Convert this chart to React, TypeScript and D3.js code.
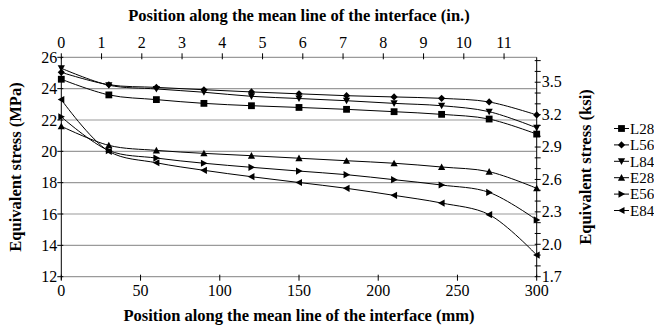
import React from "react";
import * as d3 from "d3";

const positionsMm = [0, 30, 60, 90, 120, 150, 180, 210, 240, 270, 300];
const seriesNames = ["L28", "L56", "L84", "E28", "E56", "E84"];
const L28 = [24.6, 23.6, 23.3, 23.06, 22.91, 22.8, 22.68, 22.53, 22.36, 22.06, 21.1];
const L56 = [25.04, 24.25, 24.08, 23.93, 23.79, 23.67, 23.55, 23.47, 23.38, 23.15, 22.32];
const L84 = [25.3, 24.22, 23.98, 23.77, 23.51, 23.37, 23.23, 23.06, 22.91, 22.53, 21.5];
const E28 = [21.6, 20.38, 20.06, 19.87, 19.72, 19.56, 19.4, 19.24, 19.0, 18.7, 17.64];
const E56 = [22.2, 20.05, 19.57, 19.24, 18.98, 18.74, 18.51, 18.19, 17.85, 17.38, 15.62];
const E84 = [23.3, 20.0, 19.27, 18.79, 18.38, 18.01, 17.64, 17.19, 16.7, 15.96, 13.38];
const seriesValues = [L28, L56, L84, E28, E56, E84];
const markerKinds = ["square", "diamond", "down", "up", "right", "left"];

const mmTicks = [0, 50, 100, 150, 200, 250, 300];
const inTicks = [0, 1, 2, 3, 4, 5, 6, 7, 8, 9, 10, 11];
const mpaTicks = [12, 14, 16, 18, 20, 22, 24, 26];
const ksiLabels = [1.7, 2.0, 2.3, 2.6, 2.9, 3.2, 3.5];
const ksiMinor = [1.7, 1.8, 1.9, 2.0, 2.1, 2.2, 2.3, 2.4, 2.5, 2.6, 2.7, 2.8, 2.9, 3.0, 3.1, 3.2, 3.3, 3.4, 3.5, 3.6, 3.7];

const W = 654, H = 328;
const left = 61.3, right = 536.7, top = 57.3, bottom = 276.7;
const TS: React.CSSProperties = { fontFamily: '"Liberation Serif"' };

function Marker({ kind, x, y }: { kind: string; x: number; y: number }) {
  const s = 3.6;
  switch (kind) {
    case "square":
      return <rect x={x - 3.4} y={y - 3.4} width={6.8} height={6.8} fill="#000" />;
    case "diamond":
      return <path d={`M${x},${y - s}L${x + s},${y}L${x},${y + s}L${x - s},${y}Z`} fill="#000" />;
    case "down":
      return <path d={`M${x - s},${y - 3}L${x + s},${y - 3}L${x},${y + 3.6}Z`} fill="#000" />;
    case "up":
      return <path d={`M${x - s},${y + 3}L${x + s},${y + 3}L${x},${y - 3.6}Z`} fill="#000" />;
    case "right":
      return <path d={`M${x - 3},${y - s}L${x - 3},${y + s}L${x + 3.6},${y}Z`} fill="#000" />;
    case "left":
      return <path d={`M${x + 3},${y - s}L${x + 3},${y + s}L${x - 3.6},${y}Z`} fill="#000" />;
  }
  return null;
}

export default function App() {
  const x = d3.scaleLinear().domain([0, 300]).range([left, right]);
  const xIn = d3.scaleLinear().domain([0, 300 / 25.4]).range([left, right]);
  const y = d3.scaleLinear().domain([12, 26]).range([bottom, top]);
  const yK = d3.scaleLinear().domain([1.7, 1.7 + (bottom - top) / (15.67 * 6.895)]).range([bottom, top]);

  const line = d3
    .line<number>()
    .x((_, i) => x(positionsMm[i]))
    .y((v) => y(v))
    .curve(d3.curveCatmullRom.alpha(0.5));

  const legendY0 = 128.5;
  const legendStep = 16.4;

  return (
    <svg width={W} height={H} style={{ position: "absolute", left: 0, top: 0, background: "#fff" }}>
      <rect width={W} height={H} fill="#fff" />
      {mpaTicks.map((t) => (
        <line key={"g" + t} x1={left} x2={right} y1={y(t)} y2={y(t)} stroke="#9a9a9a" strokeWidth={1.2} />
      ))}
      <line x1={left} x2={left} y1={top} y2={bottom + 3} stroke="#000" strokeWidth={1} />
      {mpaTicks.map((t) => (
        <g key={"l" + t}>
          <line x1={left - 4} x2={left + 2} y1={y(t)} y2={y(t)} stroke="#000" />
          <text x={left - 4} y={y(t)} dy="0.35em" textAnchor="end" fontSize={16} style={TS}>
            {t}
          </text>
        </g>
      ))}
      <line x1={right} x2={right} y1={top} y2={bottom} stroke="#000" strokeWidth={1} />
      {ksiMinor.map((t) => (
        <line key={"rm" + t} x1={right - 2} x2={right + 4} y1={yK(t)} y2={yK(t)} stroke="#000" />
      ))}
      {ksiLabels.map((t) => (
        <text key={"rl" + t} x={right + 5} y={yK(t)} dy="0.33em" fontSize={16} style={TS}>
          {t.toFixed(1)}
        </text>
      ))}
      {mmTicks.map((t) => (
        <g key={"b" + t}>
          <line x1={x(t)} x2={x(t)} y1={bottom - 2} y2={bottom + 4} stroke="#000" />
          <text x={x(t)} y={bottom + 19} textAnchor="middle" fontSize={16} style={TS}>
            {t}
          </text>
        </g>
      ))}
      {inTicks.map((t) => (
        <g key={"t" + t}>
          <line x1={xIn(t)} x2={xIn(t)} y1={top - 4} y2={top + 2} stroke="#000" />
          <text x={xIn(t)} y={top - 9} textAnchor="middle" fontSize={16} style={TS}>
            {t}
          </text>
        </g>
      ))}
      <text x={(left + right) / 2} y={321} textAnchor="middle" fontSize={16.5} fontWeight="bold" style={TS}>
        Position along the mean line of the interface (mm)
      </text>
      <text x={(left + right) / 2} y={21} textAnchor="middle" fontSize={16.5} fontWeight="bold" style={TS}>
        Position along the mean line of the interface (in.)
      </text>
      <text
        transform={`translate(21,${(top + bottom) / 2}) rotate(-90)`}
        textAnchor="middle"
        fontSize={16.5}
        fontWeight="bold"
        style={TS}
      >
        Equivalent stress (MPa)
      </text>
      <text
        transform={`translate(591,${(top + bottom) / 2}) rotate(-90)`}
        textAnchor="middle"
        fontSize={16.5}
        fontWeight="bold"
        style={TS}
      >
        Equivalent stress (ksi)
      </text>
      {seriesValues.map((vals, si) => (
        <g key={seriesNames[si]}>
          <path d={line(vals) || ""} fill="none" stroke="#000" strokeWidth={1} />
          {vals.map((v, i) => (
            <Marker key={i} kind={markerKinds[si]} x={x(positionsMm[i])} y={y(v)} />
          ))}
        </g>
      ))}
      {seriesNames.map((n, i) => {
        const ly = legendY0 + i * legendStep;
        return (
          <g key={"lg" + n}>
            <line x1={614} x2={629} y1={ly} y2={ly} stroke="#000" />
            <Marker kind={markerKinds[i]} x={621.5} y={ly} />
            <text x={630} y={ly} dy="0.35em" fontSize={15} style={TS}>
              {n}
            </text>
          </g>
        );
      })}
    </svg>
  );
}
